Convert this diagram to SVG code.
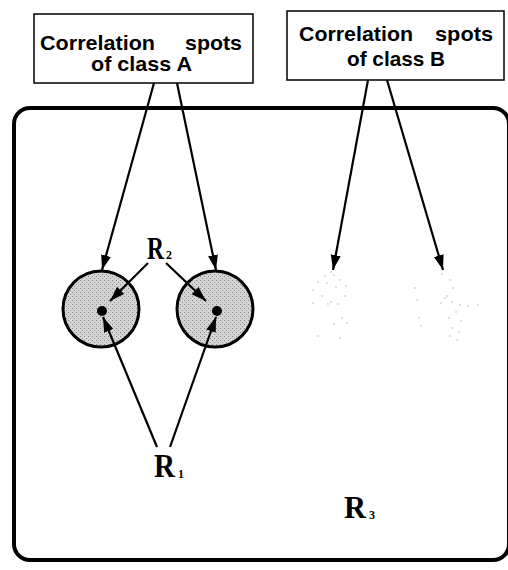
<svg xmlns="http://www.w3.org/2000/svg" width="508" height="570" viewBox="0 0 508 570">
<defs>
<marker id="ah" markerUnits="userSpaceOnUse" markerWidth="16" markerHeight="12" refX="15" refY="5" orient="auto" viewBox="0 0 16 10">
<path d="M0,0 L15,5 L0,10 Z" fill="#000"/>
</marker>
<pattern id="stip" width="4" height="4" patternUnits="userSpaceOnUse">
<rect width="4" height="4" fill="#d4d4d4"/>
<rect x="0" y="0" width="1" height="1" fill="#888"/>
<rect x="2" y="2" width="1" height="1" fill="#999"/>
</pattern>
<style>
.box{fill:#fff;stroke:#000;stroke-width:1.5}
.lab{font-family:"Liberation Sans",Arial,sans-serif;font-weight:bold;font-size:21px;fill:#000}
.r{font-family:"Liberation Serif","Times New Roman",serif;font-weight:bold;fill:#000}
.sub{font-family:"Liberation Serif","Times New Roman",serif;font-weight:bold;font-size:12px;fill:#000}
.arr{stroke:#000;stroke-width:2.2;fill:none;marker-end:url(#ah)}
.spot{fill:url(#stip);stroke:#000;stroke-width:3}
.sp{fill:#bbb}
</style>
</defs>
<g id="frame">
<rect x="14" y="108" width="495" height="452" rx="16" ry="16" fill="none" stroke="#000" stroke-width="4"/>
</g>
<g id="classA">
<rect class="box" x="34" y="14" width="219" height="69"/>
<text class="lab" x="40" y="50" textLength="115" lengthAdjust="spacingAndGlyphs">Correlation</text>
<text class="lab" x="185" y="50" textLength="57" lengthAdjust="spacingAndGlyphs">spots</text>
<text class="lab" x="91" y="71" textLength="101" lengthAdjust="spacingAndGlyphs">of class A</text>
</g>
<g id="classB">
<rect class="box" x="287" y="11" width="217" height="69"/>
<text class="lab" x="299" y="41" textLength="114" lengthAdjust="spacingAndGlyphs">Correlation</text>
<text class="lab" x="435" y="41" textLength="58" lengthAdjust="spacingAndGlyphs">spots</text>
<text class="lab" x="347" y="66" textLength="98" lengthAdjust="spacingAndGlyphs">of class B</text>
</g>
<g id="spotA1">
<circle class="spot" cx="101" cy="309" r="38"/>
<circle cx="102" cy="311" r="5" fill="#000"/>
</g>
<g id="spotA2">
<circle class="spot" cx="215" cy="309" r="38"/>
<circle cx="217" cy="311" r="5" fill="#000"/>
</g>
<g id="spotsB">
<g class="sp">
<circle cx="318" cy="282" r="0.8"/><circle cx="325" cy="276" r="0.8"/><circle cx="331" cy="272" r="0.8"/><circle cx="334" cy="275" r="0.8"/><circle cx="340" cy="280" r="0.8"/><circle cx="346" cy="286" r="0.8"/><circle cx="313" cy="290" r="0.8"/><circle cx="322" cy="296" r="0.8"/><circle cx="331" cy="302" r="0.8"/><circle cx="338" cy="304" r="0.8"/><circle cx="345" cy="296" r="0.8"/><circle cx="313" cy="303" r="0.8"/><circle cx="328" cy="304" r="0.8"/><circle cx="342" cy="318" r="0.8"/><circle cx="347" cy="323" r="0.8"/><circle cx="334" cy="324" r="0.8"/><circle cx="318" cy="336" r="0.8"/><circle cx="340" cy="338" r="0.8"/><circle cx="336" cy="287" r="0.8"/><circle cx="327" cy="283" r="0.8"/>
<circle cx="415" cy="288" r="0.8"/><circle cx="417" cy="300" r="0.8"/><circle cx="419" cy="318" r="0.8"/><circle cx="421" cy="326" r="0.8"/><circle cx="442" cy="274" r="0.8"/><circle cx="450" cy="280" r="0.8"/><circle cx="453" cy="288" r="0.8"/><circle cx="447" cy="296" r="0.8"/><circle cx="452" cy="302" r="0.8"/><circle cx="441" cy="303" r="0.8"/><circle cx="460" cy="305" r="0.8"/><circle cx="478" cy="305" r="0.8"/><circle cx="456" cy="312" r="0.8"/><circle cx="449" cy="318" r="0.8"/><circle cx="452" cy="328" r="0.8"/><circle cx="461" cy="321" r="0.8"/><circle cx="459" cy="332" r="0.8"/><circle cx="450" cy="336" r="0.8"/><circle cx="457" cy="340" r="0.8"/><circle cx="445" cy="298" r="0.8"/><circle cx="468" cy="306" r="0.8"/>
</g>
</g>
<g id="connectors">
<line class="arr" x1="154" y1="83" x2="102" y2="270"/>
<line class="arr" x1="177" y1="83" x2="216" y2="270"/>
<line class="arr" x1="368" y1="80" x2="333" y2="270"/>
<line class="arr" x1="387" y1="80" x2="443" y2="270"/>
<line class="arr" x1="148" y1="263" x2="110" y2="301"/>
<line class="arr" x1="166" y1="263" x2="206" y2="301"/>
<line class="arr" x1="157" y1="447" x2="103" y2="317"/>
<line class="arr" x1="170" y1="447" x2="216" y2="317"/>
</g>
<g id="labels">
<text class="r" transform="translate(147,259) scale(0.76,1)" x="0" y="0" font-size="31">R</text><text class="sub" x="166" y="259">2</text>
<text class="r" x="154" y="477" font-size="33" textLength="21" lengthAdjust="spacingAndGlyphs">R</text><text class="sub" x="178" y="478">1</text>
<text class="r" x="344" y="518" font-size="32" textLength="22" lengthAdjust="spacingAndGlyphs">R</text><text class="sub" x="369" y="519">3</text>
</g>
</svg>
